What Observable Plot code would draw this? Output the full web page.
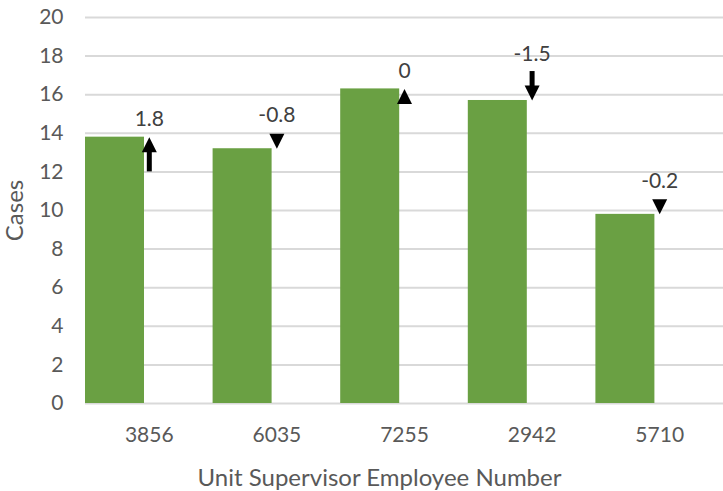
<!DOCTYPE html>
<html>
<head>
<meta charset="utf-8">
<script src="https://cdn.jsdelivr.net/npm/d3@7"></script>
<script src="https://cdn.jsdelivr.net/npm/@observablehq/plot@0.6"></script>
<style>
  html, body { margin: 0; padding: 0; background: #fff; }
  #chart svg { display: block; }
</style>
</head>
<body>
<div id="chart"></div>
<script>
// ---- data ----
const supervisors = ["3856", "6035", "7255", "2942", "5710"];
const cases = [13.8, 13.2, 16.3, 15.7, 9.8];
const changes = [1.8, -0.8, 0, -1.5, -0.2];
const yTicks = [0, 2, 4, 6, 8, 10, 12, 14, 16, 18, 20];
const xTitle = "Unit Supervisor Employee Number";
const yTitle = "Cases";

const data = supervisors.map((s, i) => ({sup: s, value: cases[i], change: changes[i]}));

// ---- layout ----
const W = 723, H = 491, mT = 17, mB = 88, mL = 85, mR = 0;
const yMax = 20;
const pxPerUnit = (H - mT - mB) / yMax;
const headLen = 15;

// arrow heads with tip at the origin
const headUp = {draw(ctx) { ctx.moveTo(0, 0); ctx.lineTo(7.5, headLen); ctx.lineTo(-7.5, headLen); ctx.closePath(); }};
const headDown = {draw(ctx) { ctx.moveTo(0, 0); ctx.lineTo(7.5, -headLen); ctx.lineTo(-7.5, -headLen); ctx.closePath(); }};

const up = d => d.change >= 0;
const topOf = d => up(d) ? d.value : Math.max(d.value - d.change, d.value + headLen / pxPerUnit);

const chart = Plot.plot({
  width: W, height: H,
  marginTop: mT, marginBottom: mB, marginLeft: mL, marginRight: mR,
  style: {fontFamily: "Lato, 'Open Sans', sans-serif", color: "#595959", background: "#fff"},
  x: {type: "band", domain: supervisors, padding: 0, round: false, axis: null},
  y: {domain: [0, yMax], axis: null},
  marks: [
    Plot.gridY(yTicks, {stroke: "#d9d9d9", strokeOpacity: 1, strokeWidth: 2}),
    Plot.barY(data, {x: "sup", y: "value", fill: "#6aa043", insetLeft: 0, insetRight: 68.6}),
    // arrow shafts
    Plot.ruleX(data.filter(d => up(d) && Math.abs(d.change) >= 1),
      {x: "sup", y1: d => d.value, y2: d => d.value - d.change, stroke: "#000", strokeWidth: 5, insetTop: 8}),
    Plot.ruleX(data.filter(d => !up(d) && Math.abs(d.change) >= 1),
      {x: "sup", y1: d => d.value - d.change, y2: d => d.value, stroke: "#000", strokeWidth: 5, insetBottom: 8}),
    // arrow heads
    Plot.dot(data.filter(up), {x: "sup", y: "value", symbol: headUp, fill: "#000", stroke: null}),
    Plot.dot(data.filter(d => !up(d)), {x: "sup", y: "value", symbol: headDown, fill: "#000", stroke: null}),
    // change labels
    Plot.text(data, {x: "sup", y: topOf, text: d => String(d.change), lineAnchor: "bottom", dy: -11, fontSize: 21, fill: "#404040"}),
    // axes
    Plot.axisY(yTicks, {tickSize: 0, tickPadding: 22, fontSize: 21, fill: "#595959", label: null}),
    Plot.axisX(supervisors, {tickSize: 0, tickPadding: 24, fontSize: 21, fill: "#595959", label: null}),
    Plot.text([xTitle], {frameAnchor: "bottom", lineAnchor: "middle", textAnchor: "middle", dx: -25, dy: 75, fontSize: 24, fill: "#595959"}),
    Plot.text([yTitle], {frameAnchor: "left", lineAnchor: "middle", textAnchor: "middle", dx: -70, rotate: -90, fontSize: 24, fill: "#595959"})
  ]
});
document.getElementById("chart").appendChild(chart);
</script>
</body>
</html>
